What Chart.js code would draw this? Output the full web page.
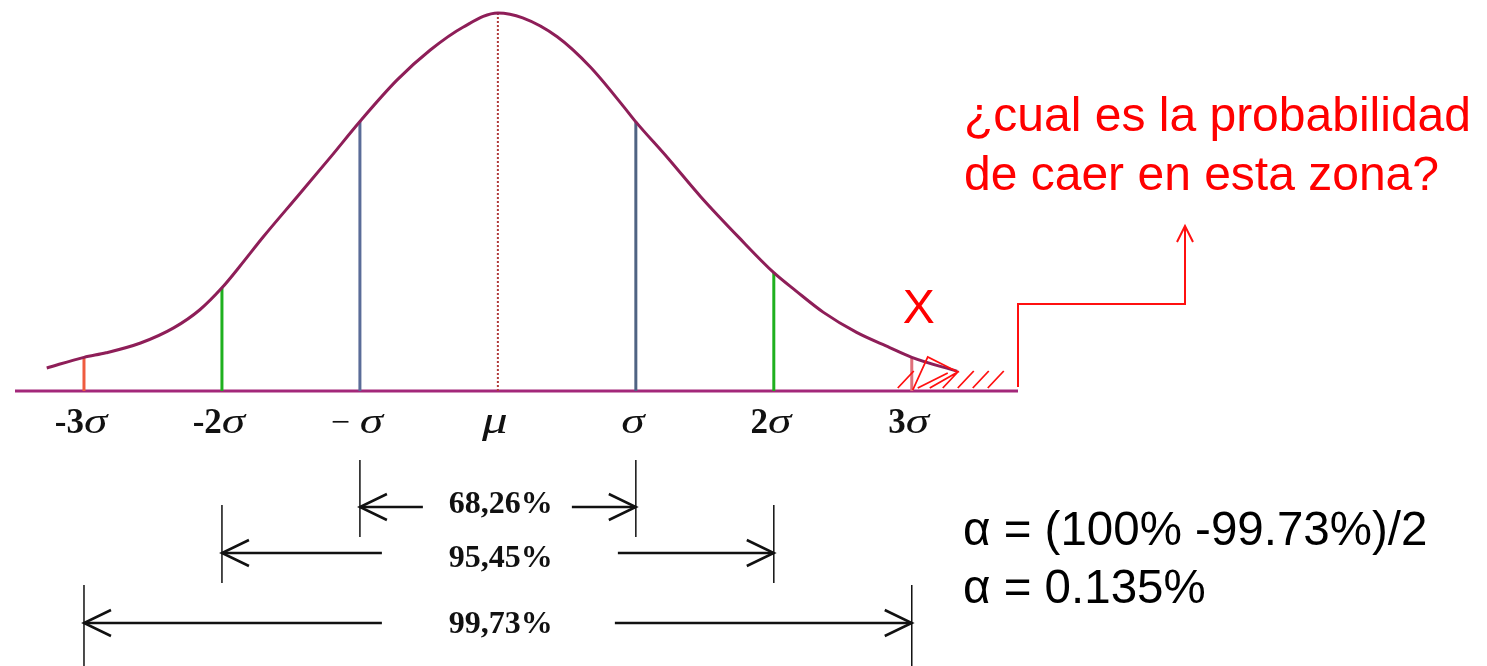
<!DOCTYPE html>
<html>
<head>
<meta charset="utf-8">
<script src="https://cdn.jsdelivr.net/npm/chart.js@4.4.1/dist/chart.umd.min.js"></script>
<style>
html, body { margin: 0; padding: 0; background: #fff; }
</style>
</head>
<body>
<canvas id="myChart" width="1487" height="666"></canvas>
<script>
// curve: x in sigma units, height relative to the peak (=100)
const curveX = [-3.27, -3.0, -2.84, -2.59, -2.35, -2.16, -2.0, -1.87, -1.7, -1.45, -1.21, -1.0, -0.73, -0.49, -0.25, 0,
                0.18, 0.43, 0.67, 0.91, 1.0, 1.23, 1.47, 1.75, 2.0, 2.16, 2.36, 2.6, 2.84, 3.0, 3.33];
const curveY = [6.1, 8.9, 10.1, 12.7, 16.7, 21.5, 27.3, 33.0, 40.8, 51.6, 62.0, 71.3, 82.3, 90.2, 96.3, 100,
                98.7, 93.7, 85.7, 75.3, 71.2, 61.7, 51.4, 40.5, 31.3, 26.5, 20.8, 15.5, 11.5, 8.9, 5.2];

const tickValues = [-3, -2, -1, 0, 1, 2, 3];
const tickLabels = ['-3σ', '-2σ', '−σ', 'μ', 'σ', '2σ', '3σ'];

const markerSigmas = [-3, -2, -1, 1, 2, 3];
const markerColors = ['#ef5b3f', '#1fb01f', '#5a6c98', '#4f6383', '#1fb01f', '#e0707a'];

const bandSigmas = [1, 2, 3];
const bandLabels = ['68,26%', '95,45%', '99,73%'];

const axisRange = [-3.5, 3.77];

const heightAt = s => curveY[curveX.indexOf(s)];

let datasets = [];

// the bell curve (first = drawn on top)
datasets.push({
  data: curveX.map((x, i) => ({x: x, y: curveY[i]})),
  borderColor: '#8e1e58', borderWidth: 3, cubicInterpolationMode: 'monotone', pointRadius: 0, clip: false
});

// mu dotted line
datasets.push({
  data: [{x: 0, y: 0}, {x: 0, y: heightAt(0)}],
  borderColor: '#b03a3a', borderWidth: 2, borderDash: [2, 2], pointRadius: 0, clip: false
});

// sigma markers
markerSigmas.forEach((s, i) => {
  datasets.push({
    data: [{x: s, y: 0}, {x: s, y: heightAt(s)}],
    borderColor: markerColors[i], borderWidth: 3, pointRadius: 0, clip: false
  });
});

// base line
datasets.push({
  data: [{x: axisRange[0], y: 0}, {x: axisRange[1], y: 0}],
  borderColor: '#a3287a', borderWidth: 3, pointRadius: 0, clip: false
});

function arrowHead(ctx, x, y, dx, dy, len, half) {
  // open V arrow pointing in direction (dx,dy)
  ctx.beginPath();
  ctx.moveTo(x - dx * len - dy * half, y - dy * len + dx * half);
  ctx.lineTo(x, y);
  ctx.lineTo(x - dx * len + dy * half, y - dy * len - dx * half);
  ctx.stroke();
}

const GREEK_STRETCH = 1.35;

const extras = {
  id: 'extras',
  afterDatasetsDraw(chart) {
    const ctx = chart.ctx;
    const xs = chart.scales.x, ys = chart.scales.y;
    const area = chart.chartArea;
    const bottom = area.bottom;
    ctx.save();

    // tick labels: bold number + italic greek letter
    ctx.fillStyle = '#111';
    ctx.textBaseline = 'alphabetic';
    ctx.textAlign = 'left';
    tickValues.forEach((v, i) => {
      const lab = tickLabels[i];
      const head = lab.slice(0, -1), greek = lab.slice(-1);
      const fHead = head === '−' ? '34px "Liberation Serif"' : 'bold 35px "Liberation Serif"';
      const fG = greek === 'μ' ? 'italic 38px "Liberation Serif"' : 'italic 35px "Liberation Serif"';
      ctx.font = fHead;
      const pad = head === '−' ? 10 : 0;
      const w1 = head ? ctx.measureText(head).width + pad : 0;
      ctx.font = fG;
      const w2 = ctx.measureText(greek).width * GREEK_STRETCH;
      let x0 = xs.getPixelForValue(v) - (w1 + w2) / 2 - 3;
      if (head) {
        ctx.font = fHead;
        ctx.fillText(head, x0, bottom + 42);
      }
      ctx.font = fG;
      ctx.save();
      ctx.translate(x0 + w1, bottom + 42);
      ctx.scale(GREEK_STRETCH, 1);
      ctx.fillText(greek, 0, 0);
      ctx.restore();
    });

    // percentage bands
    const rowY = [116, 162, 232];
    const extTop = [69, 114, 194];
    const extBot = [146, 192, 275];
    const gapL = [75, 116, 116];
    const gapR = [74, 120, 117];
    const textY = [122, 176, 242];
    const c = xs.getPixelForValue(0);
    ctx.strokeStyle = '#111';
    bandSigmas.forEach((s, i) => {
      const xl = xs.getPixelForValue(-s), xr = xs.getPixelForValue(s);
      const y = bottom + rowY[i];
      ctx.lineWidth = 1.5;
      ctx.beginPath();
      ctx.moveTo(xl, bottom + extTop[i]); ctx.lineTo(xl, bottom + extBot[i]);
      ctx.moveTo(xr, bottom + extTop[i]); ctx.lineTo(xr, bottom + extBot[i]);
      ctx.stroke();
      ctx.lineWidth = 2.5;
      ctx.beginPath();
      ctx.moveTo(xl, y); ctx.lineTo(c - gapL[i], y);
      ctx.moveTo(c + gapR[i], y); ctx.lineTo(xr, y);
      ctx.stroke();
      arrowHead(ctx, xl, y, -1, 0, 27, 13);
      arrowHead(ctx, xr, y, 1, 0, 27, 13);
      ctx.font = 'bold 32px "Liberation Serif"';
      ctx.textAlign = 'center';
      ctx.fillText(bandLabels[i], c + 3, bottom + textY[i]);
    });

    // red tail zone
    const x3 = xs.getPixelForValue(3);
    ctx.strokeStyle = '#ff1010';
    ctx.lineWidth = 1.8;
    ctx.beginPath();
    ctx.moveTo(x3 + 1, bottom - 1); ctx.lineTo(x3 + 16, bottom - 34);
    ctx.lineTo(x3 + 46, bottom - 19); ctx.lineTo(x3 + 18, bottom - 3);
    ctx.moveTo(x3 + 6, bottom - 3); ctx.lineTo(x3 + 36, bottom - 18);
    [-14, 31, 46, 61, 76].forEach(o => {
      ctx.moveTo(x3 + o, bottom - 3); ctx.lineTo(x3 + o + 16, bottom - 20);
    });
    ctx.stroke();

    ctx.fillStyle = '#ff0000';
    ctx.font = '48px "Liberation Sans"';
    ctx.textAlign = 'center';
    ctx.fillText('X', x3 + 7, ys.getPixelForValue(18));

    // connector to the question
    const r = area.right;
    ctx.lineWidth = 2;
    ctx.beginPath();
    ctx.moveTo(r, bottom - 4);
    ctx.lineTo(r, bottom - 87);
    ctx.lineTo(r + 167, bottom - 87);
    ctx.lineTo(r + 167, bottom - 165);
    ctx.stroke();
    arrowHead(ctx, r + 167, bottom - 165, 0, -1, 16, 8);

    ctx.textAlign = 'left';
    ctx.font = '48px "Liberation Sans"';
    ctx.fillText('¿cual es la probabilidad', r - 54, 131);
    ctx.fillText('de caer en esta zona?', r - 54, 190);

    ctx.fillStyle = '#000';
    ctx.font = '47.5px "Liberation Sans"';
    ctx.fillText('α = (100% -99.73%)/2', r - 55, 545);
    ctx.fillText('α = 0.135%', r - 55, 603);

    ctx.restore();
  }
};

const ctx = document.getElementById('myChart').getContext('2d');
const myChart = new Chart(ctx, {
  type: 'line',
  data: {datasets: datasets},
  options: {
    responsive: false,
    animation: false,
    layout: {padding: {left: 15, right: 469, top: 13, bottom: 275}},
    plugins: {legend: {display: false}, tooltip: {enabled: false}},
    scales: {
      x: {type: 'linear', min: axisRange[0], max: axisRange[1], display: false},
      y: {type: 'linear', min: 0, max: 100, display: false}
    }
  },
  plugins: [extras]
});
</script>
</body>
</html>
